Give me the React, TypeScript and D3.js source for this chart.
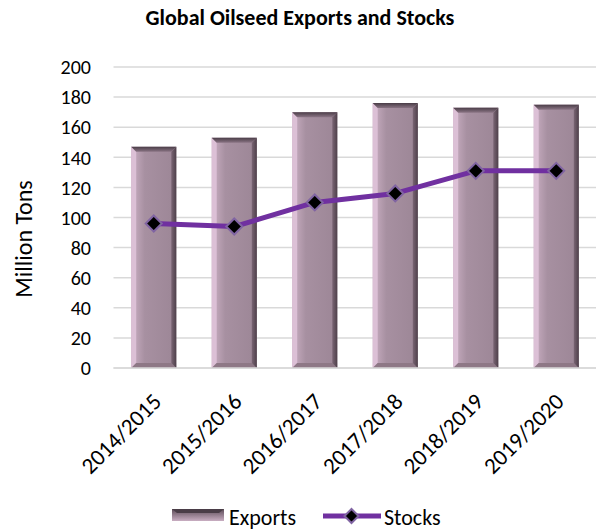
import React from "react";
import * as d3 from "d3";

const categories = ["2014/2015", "2015/2016", "2016/2017", "2017/2018", "2018/2019", "2019/2020"];
const exportsVals = [147, 153, 170, 176, 173, 175];
const stocksVals = [96, 94, 110, 116, 131, 131];
const yTicks = [0, 20, 40, 60, 80, 100, 120, 140, 160, 180, 200];

const W = 596, H = 531;
const left = 113.5, right = 596.5, top = 67, bottom = 368;
const FONT = "Carlito, Calibri, Lato, sans-serif";

export default function App() {
  const x = d3.scaleBand().domain(categories).range([left, right]).paddingInner(0.44).paddingOuter(0.22);
  const y = d3.scaleLinear().domain([0, 200]).range([bottom, top]);
  const bw = x.bandwidth();
  const b = 5;
  const line = d3.line<number>().x((_, i) => x(categories[i])! + bw / 2).y(d => y(d));
  const diamond = (cx: number, cy: number, r: number) => `M${cx},${cy - r}L${cx + r},${cy}L${cx},${cy + r}L${cx - r},${cy}Z`;

  const bevelBar = (x0: number, y0: number, w: number, yb: number, key: string) => {
    const x1 = x0 + w;
    return (
      <g key={key}>
        <rect x={x0} y={y0} width={w} height={yb - y0} fill="url(#face)" />
        <polygon points={`${x0},${y0} ${x0 + b},${y0 + b} ${x0 + b},${yb - b} ${x0},${yb}`} fill="#dcc0d6" />
        <polygon points={`${x0},${yb} ${x0 + b},${yb - b} ${x1 - b},${yb - b} ${x1},${yb}`} fill="#8e7886" />
        <polygon points={`${x1},${y0} ${x1},${yb} ${x1 - b},${yb - b} ${x1 - b},${y0 + b}`} fill="url(#rside)" />
        <polygon points={`${x0},${y0} ${x1},${y0} ${x1 - b},${y0 + b} ${x0 + b},${y0 + b}`} fill="url(#topb)" />
      </g>
    );
  };

  return (
    <svg width={W} height={H} style={{ position: "absolute", left: 0, top: 0 }} fontFamily={FONT}>
      <defs>
        <linearGradient id="face" x1="0" x2="1" y1="0" y2="0">
          <stop offset="0" stopColor="#cbb0c4" />
          <stop offset="0.3" stopColor="#a790a1" />
          <stop offset="1" stopColor="#9c8696" />
        </linearGradient>
        <linearGradient id="rside" x1="0" x2="1" y1="0" y2="0">
          <stop offset="0" stopColor="#7a6574" />
          <stop offset="1" stopColor="#4e404a" />
        </linearGradient>
        <linearGradient id="topb" x1="0" x2="0" y1="0" y2="1">
          <stop offset="0" stopColor="#4a3d47" />
          <stop offset="1" stopColor="#8a7484" />
        </linearGradient>
        <linearGradient id="leg" x1="0" x2="0" y1="0" y2="1">
          <stop offset="0" stopColor="#5d4c58" />
          <stop offset="1" stopColor="#c9aec2" />
        </linearGradient>
      </defs>
      <rect width={W} height={H} fill="#fff" />
      <text x={300} y={25} textAnchor="middle" fontSize={22} fontWeight="bold" fill="#000">Global Oilseed Exports and Stocks</text>
      {yTicks.map(t => (
        <g key={t}>
          <line x1={left} x2={right} y1={y(t)} y2={y(t)} stroke="#d9d9d9" strokeWidth={1.5} />
          <text x={91} y={y(t)} dy="0.36em" textAnchor="end" fontSize={20} fill="#000">{t}</text>
        </g>
      ))}
      {exportsVals.map((v, i) => bevelBar(x(categories[i])!, y(v), bw, y(0), categories[i]))}
      <line x1={left} x2={right} y1={y(0)} y2={y(0)} stroke="#d9d9d9" strokeWidth={1.5} />
      <path d={line(stocksVals)!} fill="none" stroke="#7030a0" strokeWidth={5} strokeLinejoin="round" />
      {stocksVals.map((v, i) => (
        <path key={i} d={diamond(x(categories[i])! + bw / 2, y(v), 8)} fill="#000" stroke="#8064a2" strokeWidth={2} />
      ))}
      {categories.map(c => {
        const cx = x(c)! + bw / 2 + 9;
        const cy = 403;
        return (
          <text key={c} transform={`translate(${cx},${cy}) rotate(-45)`} textAnchor="end" fontSize={23} fill="#000">{c}</text>
        );
      })}
      <text transform={`translate(32,239) rotate(-90)`} textAnchor="middle" fontSize={24} fill="#000">Million Tons</text>
      <g>
        <rect x={172} y={509} width={52} height={12} fill="url(#leg)" />
        <polygon points="172,509 224,509 219,513 177,513" fill="#4a3d47" />
        <text x={229} y={517} dy="0.35em" fontSize={22} fill="#000">Exports</text>
        <line x1={323} x2={381} y1={516} y2={516} stroke="#7030a0" strokeWidth={5} />
        <path d={diamond(351.5, 516, 7)} fill="#000" stroke="#8064a2" strokeWidth={2} />
        <text x={384} y={517} dy="0.35em" fontSize={22} fill="#000">Stocks</text>
      </g>
    </svg>
  );
}
